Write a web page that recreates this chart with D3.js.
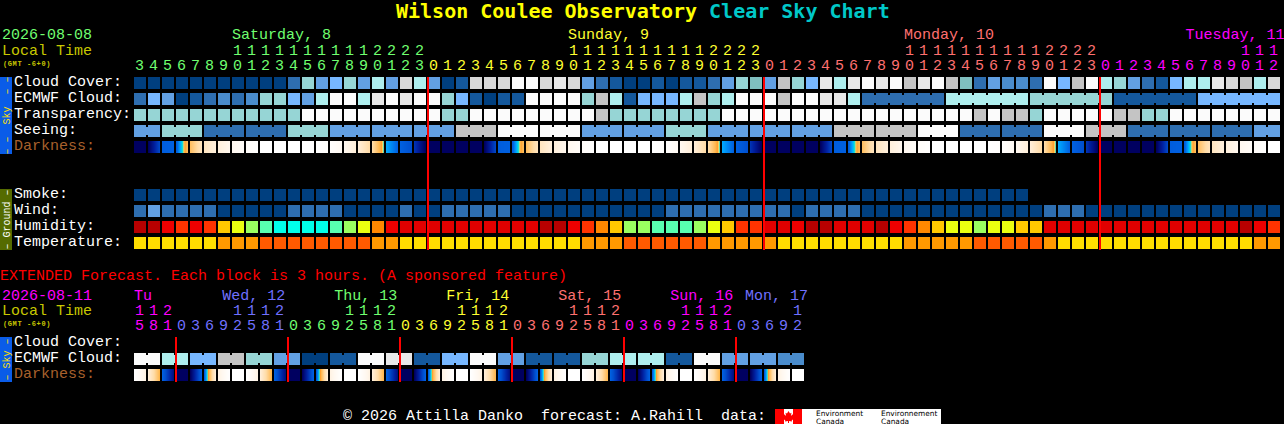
<!DOCTYPE html>
<html><head><meta charset="utf-8">
<script src="https://cdn.jsdelivr.net/npm/d3@7/dist/d3.min.js"></script>
<style>
html,body{margin:0;padding:0;background:#000;width:1284px;height:424px;overflow:hidden}
svg{display:block}
text{font-family:"Liberation Mono","DejaVu Sans Mono",monospace;white-space:pre}
</style></head><body>
<svg id="c" width="1284" height="424"></svg>
<script>
// ---------- data ----------
const cloudPalette=["#003f7f","#14589c","#2e6eb0","#4a8ccc","#62a0e3","#77b7ff","#96d5d5","#aeeeee","#7fbfbf","#fbfbfb","#e8e8e8","#d8d8d8","#c4c4c4"];
const windPalette=cloudPalette;
const humidityPalette=["#b80000","#e00000","#ee0000","#ff3300","#ff8800","#ffc800","#eaff10","#9aff60","#58ffb0","#00ffea"];
const tempPalette=["#ffdd00","#ff9900","#ff5a00"];

const hourLabels=[3,4,5,6,7,8,9,10,11,12,13,14,15,16,17,18,19,20,21,22,23,
 0,1,2,3,4,5,6,7,8,9,10,11,12,13,14,15,16,17,18,19,20,21,22,23,
 0,1,2,3,4,5,6,7,8,9,10,11,12,13,14,15,16,17,18,19,20,21,22,23,
 0,1,2,3,4,5,6,7,8,9,10,11,12];
const cloudCover=[0,0,0,0,0,0,0,0,0,0,0,2,6,4,5,6,4,7,4,11,7,
 4,0,1,11,11,11,9,9,11,10,11,4,2,1,0,0,1,0,1,1,2,4,6,8,4,12,6,5,10,7,10,
 9,10,9,12,10,9,12,8,2,4,3,3,2,9,5,12,9,7,6,4,2,1,5,7,7,10,11,12,7,11];
const ecmwfCloud=[2,5,4,0,1,2,3,2,3,6,6,5,4,7,9,9,7,10,9,10,9,
 9,6,5,1,0,1,1,9,9,9,9,6,12,7,1,5,5,5,7,12,6,7,9,9,9,12,9,9,10,10,7,
 2,2,2,2,2,2,7,7,7,7,7,7,6,6,6,6,6,6,1,1,1,1,1,1,5,5,5,5,5,5];
const ecmwfGroups=[1,1,1,1,1,1,1,1,1,1,1,1,1,1,1,1,1,1,1,1,1,1,1,1,1,1,1,1,1,1,1,1,1,1,1,1,1,1,1,1,1,1,1,1,1,1,1,1,1,1,1,1,6,6,6,6,6];
const transparency=[6,6,6,6,6,6,6,6,6,6,6,6,9,9,9,9,9,9,9,9,9,
 9,6,6,9,9,9,9,9,9,9,9,9,12,6,6,6,6,6,6,6,6,9,9,9,9,9,9,9,9,9,9,
 9,9,9,9,9,9,9,9,12,9,12,12,6,9,9,9,9,9,12,12,6,6,9,9,9,9,9,9,9,9];
const seeing=[4,4,6,6,6,2,2,2,2,2,2,6,6,6,4,4,4,4,4,4,4,4,4,
 12,12,12,9,9,9,9,9,9,4,4,4,4,4,4,6,6,6,4,4,4,4,4,4,4,4,4,12,12,12,
 12,12,12,9,9,9,2,2,2,2,2,2,9,9,9,12,12,12,2,2,2,2,2,2,2,2,2,4,4];
const seeingGroups=[2,3,3,3,3,3,3,3,3,3,3,3,3,3,3,3,3,3,3,3,3,3,3,3,3,3,3,2];
const darknessStart=[8,8,5.6,5.6,3.8,2.5,1.8,1,.4,0,0,0,0,0,.2,1,2,3,5,5.5,6.6,
 8,8,8,8,8,5.6,5.6,3.8,2.5,1.8,1,.4,0,0,0,0,0,.2,1,2,3,5,5.5,6.6,
 8,8,8,8,8,5.6,5.6,3.8,2.5,1.8,1,.4,0,0,0,0,0,.2,1,2,3,5,5.5,6.6,
 8,8,8,8,8,5.6,5.6,3.8,2.5,1.8,1,.4,0];
const darknessEnd=[8,6.2,5.5,3.9,2.6,1.9,1.1,.5,.1,0,0,0,0,.2,.8,1.9,3,4.6,5.5,6,8,
 8,8,8,8,6.2,5.5,3.9,2.6,1.9,1.1,.5,.1,0,0,0,0,.2,.8,1.9,3,4.6,5.5,6,8,
 8,8,8,8,6.2,5.5,3.9,2.6,1.9,1.1,.5,.1,0,0,0,0,.2,.8,1.9,3,4.6,5.5,6,8,
 8,8,8,8,6.2,5.5,3.9,2.6,1.9,1.1,.5,.1,0];
const smoke=[0,0,0,0,0,0,0,0,0,0,0,0,0,0,0,0,0,0,0,0,0,0,0,0,0,0,0,0,0,0,0,0,
 0,0,0,0,0,0,0,0,0,0,0,0,0,0,0,0,0,0,0,0,0,0,0,0,0,0,0,0,0,0,0,0];
const wind=[2,4,2,2,2,2,0,0,0,0,0,2,2,2,2,0,0,0,0,2,0,
 0,2,2,2,2,2,0,0,0,0,0,0,0,0,0,0,0,2,2,2,2,2,2,2,2,2,0,2,2,2,2,
 0,0,0,0,0,0,0,0,0,0,0,0,0,2,2,2,0,0,0,0,0,0,0,0,0,0,0,0,0,0];
const humidity=[0,0,2,3,2,3,5,6,7,8,9,9,9,9,8,7,6,4,2,1,1,
 1,1,1,1,1,1,1,1,0,0,2,3,4,5,7,7,8,8,8,7,6,5,3,3,1,1,2,0,0,1,1,
 1,0,2,3,4,5,6,6,7,6,6,5,5,1,1,1,1,1,1,1,1,1,1,1,1,1,1,0,2,3];
const temperature=[0,0,0,0,0,0,1,1,1,2,2,2,2,2,2,2,2,1,1,0,0,
 0,0,0,0,0,0,0,0,0,0,0,1,1,1,2,2,2,2,2,2,1,1,1,1,1,0,0,0,0,0,0,
 0,0,0,1,1,1,1,1,2,2,2,2,2,1,0,0,0,0,0,0,0,0,0,0,0,0,0,0,1,1];

const extHours=[15,18,21, 0,3,6,9,12,15,18,21, 0,3,6,9,12,15,18,21, 0,3,6,9,12,15,18,21,
 0,3,6,9,12,15,18,21, 0,3,6,9,12,15,18,21, 0,3,6,9,12];
const extEcmwf=[9,9,7,7,5,5,12,12,6,6,4,4,0,0,1,1,9,9,10,10,1,1,5,5,9,9,4,4,1,1,1,1,6,6,7,7,7,7,1,1,9,9,4,4,4,4,3,3];
const extGroups=[2,2,2,2,2,2,2,2,2,2,2,2,2,2,2,2,2,2,2,2,2,2,2,2];
const extDarkStart=[0,2,5.5,8,8,5.6,1.5,0,0,2,5.5,8,8,5.6,1.5,0,0,2,5.5,8,8,5.6,1.5,0,0,2,5.5,8,8,5.6,1.5,0,0,2,5.5,8,8,5.6,1.5,0,0,2,5.5,8,8,5.6,1.5,0];
const extDarkEnd=[1.5,4,7.5,8,5.5,2,.1,0,1.5,4,7.5,8,5.5,2,.1,0,1.5,4,7.5,8,5.5,2,.1,0,1.5,4,7.5,8,5.5,2,.1,0,1.5,4,7.5,8,5.5,2,.1,0,1.5,4,7.5,8,5.5,2,.1,0];

const dayNames=[{t:"Saturday, 8",cell:7,c:"#70ff70"},{t:"Sunday, 9",cell:31,c:"#ffff30"},{t:"Monday, 10",cell:55,c:"#ff7070"},{t:"Tuesday, 11",cell:75.1,c:"#ff00ff"}];
const dayStarts=[{from:0,c:"#70ff70"},{from:21,c:"#ffff30"},{from:45,c:"#ff7070"},{from:69,c:"#ff00ff"}];
const midnights=[21,45,69];
const extDayNames=[{t:"Tu",cell:0,c:"#ff00ff"},{t:"Wed, 12",cell:6.3,c:"#7070ff"},{t:"Thu, 13",cell:14.3,c:"#70ff70"},{t:"Fri, 14",cell:22.3,c:"#ffff30"},{t:"Sat, 15",cell:30.3,c:"#ff7070"},{t:"Sun, 16",cell:38.3,c:"#ff00ff"},{t:"Mon, 17",cell:43.65,c:"#7070ff"}];
const extDayStarts=[{from:0,c:"#ff00ff"},{from:3,c:"#7070ff"},{from:11,c:"#70ff70"},{from:19,c:"#ffff30"},{from:27,c:"#ff7070"},{from:35,c:"#ff00ff"},{from:43,c:"#7070ff"}];
const extMidnights=[3,11,19,27,35,43];
const skyLabels=["Cloud Cover:","ECMWF Cloud:","Transparency:","Seeing:","Darkness:"];
const groundLabels=["Smoke:","Wind:","Humidity:","Temperature:"];
const extLabels=["Cloud Cover:","ECMWF Cloud:","Darkness:"];

// ---------- drawing ----------
const svg=d3.select("#c");
svg.append("rect").attr("width",1284).attr("height",424).attr("fill","#000");
const x=d3.scaleLinear().domain([0,82]).range([134,1282]);
const cw=12, ch=12;
const rowY=d3.scaleLinear().domain([0,1]).range([77,93]);
const darkColor=d3.scaleLinear()
 .domain([0,1,2,3,4,4.3,4.45,4.7,5,5.5,6,7,8])
 .range(["#ffffff","#fff8f0","#ffeed8","#ffdca8","#ffb850","#ffa030","#ffd060","#00e0e0","#00a8ff","#0060e0","#0050d0","#0020a0","#000060"])
 .clamp(true);

function label(t,px,py,color,size,extra){
  const e=svg.append("text").attr("x",px).attr("y",py).attr("fill",color).attr("font-size",size).text(t);
  if(extra) Object.entries(extra).forEach(([k,v])=>e.attr(k,v));
  return e;
}
function cells(values,palette,row,groups){
  const y0=rowY(row);
  const g=svg.append("g").attr("shape-rendering","crispEdges");
  g.selectAll("rect.c").data(values).join("rect").attr("class","c")
    .attr("x",(d,i)=>x(i)).attr("y",y0).attr("width",cw).attr("height",ch).attr("fill",d=>palette[d]);
  if(groups){
    const necks=[];let p=0;
    groups.forEach(n=>{for(let k=0;k<n-1;k++)necks.push(p+k);p+=n;});
    g.selectAll("rect.n").data(necks).join("rect").attr("class","n")
      .attr("x",i=>x(i)+cw).attr("y",y0+2).attr("width",x(1)-x(0)-cw).attr("height",ch-4)
      .attr("fill",i=>palette[values[i]]);
  }
}
function darkness(starts,ends,row){
  const y0=rowY(row);
  const g=svg.append("g").attr("shape-rendering","crispEdges");
  const strip=d3.range(cw);
  starts.forEach((a,i)=>{
    const b=ends[i];
    g.selectAll(null).data(strip).join("rect")
     .attr("x",k=>x(i)+k).attr("y",y0).attr("width",1).attr("height",ch)
     .attr("fill",k=>darkColor(a+(b-a)*k/(cw-1)));
  });
}
function hours(list,starts,yTop,yBot){
  const colorOf=i=>{let c=starts[0].c;starts.forEach(s=>{if(i>=s.from)c=s.c;});return c;};
  list.forEach((h,i)=>{
    label(String(h%10),x(i)+5.5,yBot,colorOf(i),15,{"text-anchor":"middle"});
    if(h>=10) label(String(Math.floor(h/10)),x(i)+5.5,yTop,colorOf(i),15,{"text-anchor":"middle"});
  });
}
function redLines(list,y1,y2){
  svg.append("g").attr("shape-rendering","crispEdges").selectAll("rect").data(list).join("rect")
   .attr("x",i=>x(i)-1).attr("y",y1).attr("width",2).attr("height",y2-y1).attr("fill","#ff0000");
}
function sideBar(y0,h,color,text,tc,size){
  svg.append("rect").attr("x",0).attr("y",y0).attr("width",12).attr("height",h).attr("fill",color).attr("shape-rendering","crispEdges");
  label(text,0,0,tc,size,{"text-anchor":"middle","transform":`translate(9.5,${y0+h/2}) rotate(-90)`});
}

// title
const title=svg.append("text").attr("x",396).attr("y",18).attr("font-size",20).attr("font-weight","bold").style("font-family","'DejaVu Sans Mono',monospace");
title.append("tspan").attr("fill","#ffff00").text("Wilson Coulee Observatory ");
title.append("tspan").attr("fill","#00c8c8").text("Clear Sky Chart");

// main header
label("2026-08-08",2,39,"#70ff70",15);
label("Local Time",2,55,"#c8c800",15);
label("(GMT -6+0)",3,65.5,"#c8c800",7,{"font-weight":"bold","letter-spacing":0.6});
dayNames.forEach(d=>label(d.t,x(d.cell),39,d.c,15));
hours(hourLabels,dayStarts,55,70);

// main rows
sideBar(77,77,"#0a5ce8","\u2013 \u2013  Sky  \u2013 \u2013","#ffe000",10);
skyLabels.forEach((t,i)=>label(t,14,rowY(i)+9,i==4?"#a8602c":"#ffffff",15));
cells(cloudCover,cloudPalette,0);
cells(ecmwfCloud,cloudPalette,1,ecmwfGroups);
cells(transparency,cloudPalette,2);
cells(seeing,cloudPalette,3,seeingGroups);
darkness(darknessStart,darknessEnd,4);

sideBar(189,61,"#556b00","\u2013 Ground \u2013","#ffffff",10);
groundLabels.forEach((t,i)=>label(t,14,rowY(7+i)+9,"#ffffff",15));
cells(smoke,windPalette,7);
cells(wind,windPalette,8);
cells(humidity,humidityPalette,9);
cells(temperature,tempPalette,10);
redLines(midnights,77,250);

// extended
label("EXTENDED Forecast. Each block is 3 hours. (A sponsored feature)",0,280,"#ff0000",15);
label("2026-08-11",2,299.5,"#ff00ff",15);
label("Local Time",2,315,"#c8c800",15);
label("(GMT -6+0)",3,325.5,"#c8c800",7,{"font-weight":"bold","letter-spacing":0.6});
extDayNames.forEach(d=>label(d.t,x(d.cell),299.5,d.c,15));
hours(extHours,extDayStarts,315,330);
sideBar(337,45,"#0a5ce8","\u2013 Sky \u2013","#ffe000",10);
extLabels.forEach((t,i)=>label(t,14,rowY(16.25+i)+9,i==2?"#a8602c":"#ffffff",15));
cells(extEcmwf,cloudPalette,17.25,extGroups);
darkness(extDarkStart,extDarkEnd,18.25);
redLines(extMidnights,337,382);

// footer
label("\u00A9 2026 Attilla Danko  forecast: A.Rahill  data:",343,420,"#ffffff",15);
const logo=svg.append("g").attr("shape-rendering","crispEdges");
logo.append("rect").attr("x",775).attr("y",409).attr("width",166).attr("height",15).attr("fill","#ffffff");
logo.append("rect").attr("x",775).attr("y",409).attr("width",9).attr("height",15).attr("fill","#ff0000");
logo.append("rect").attr("x",793).attr("y",409).attr("width",9).attr("height",15).attr("fill","#ff0000");
svg.append("path").attr("fill","#ff0000")
 .attr("d","M788.5 411 l1.5 2.5 1.5 -.8 -.6 3.2 1.8 -1.6 .6 1.2 1.5 -.2 -.6 2 .8 .5 -3.3 2.6 .3 1.1 -3 -.4 v2 h-1 v-2 l-3 .4 .3 -1.1 -3.3 -2.6 .8 -.5 -.6 -2 1.5 .2 .6 -1.2 1.8 1.6 -.6 -3.2 1.5 .8z");
[["Environment",816,415.5],["Canada",816,423.5],["Environnement",881,415.5],["Canada",881,423.5]].forEach(d=>
  label(d[0],d[1],d[2],"#000000",7.4,{"style":"font-family:'DejaVu Sans',sans-serif"}));
</script>
</body></html>
